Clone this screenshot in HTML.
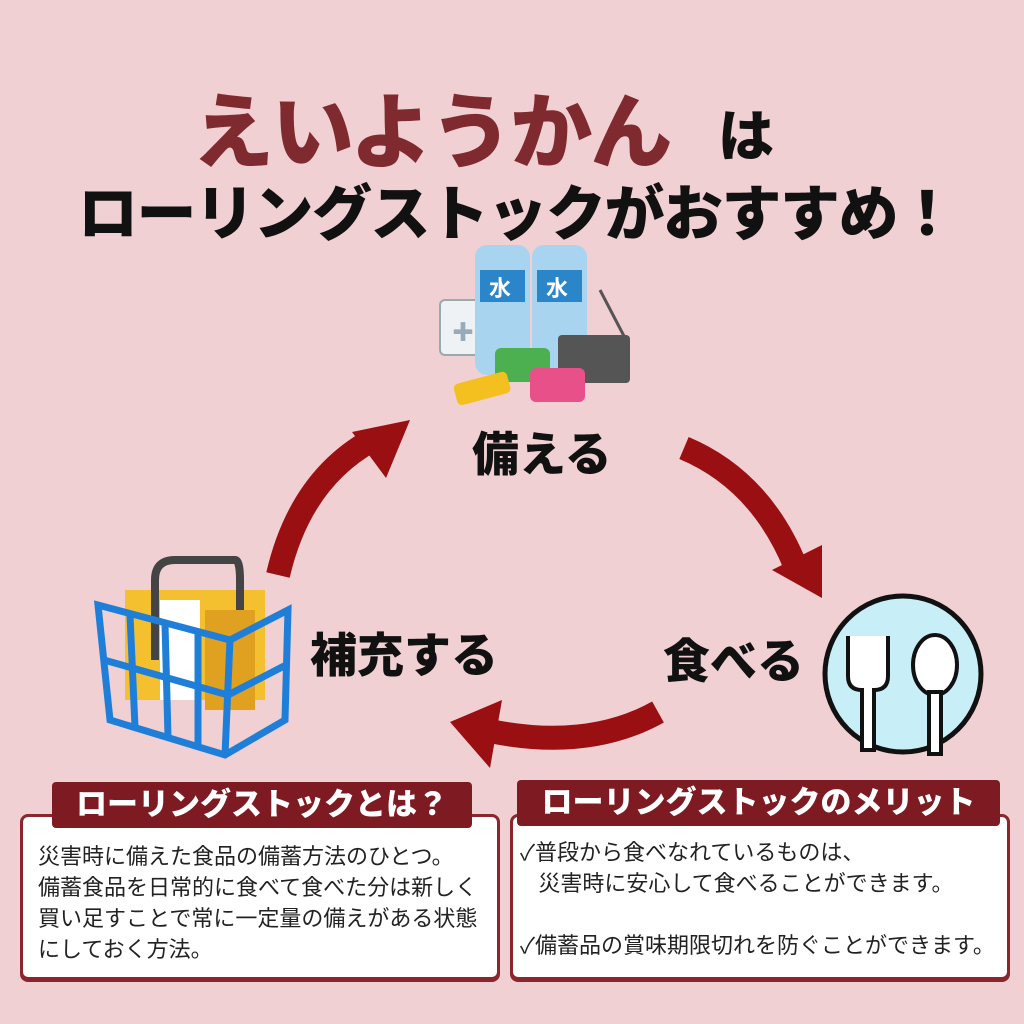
<!DOCTYPE html>
<html><head><meta charset="utf-8"><style>
body{margin:0;width:1024px;height:1024px;background:#f0d0d3;position:relative;overflow:hidden;font-family:"Liberation Sans","Noto Sans CJK JP",sans-serif}
.a{position:absolute;white-space:nowrap}
.t1{left:192px;top:66px;font-size:82px;font-weight:900;color:#7f2a2e;letter-spacing:-2px}
.t1b{left:718px;top:92px;font-size:56px;font-weight:900;color:#111}
.t2{left:78px;top:166px;font-size:60px;font-weight:900;color:#111;letter-spacing:-1.5px}
.lbl{font-size:47px;font-weight:900;color:#111}
.box{position:absolute;background:#fff;border:3px solid #8a262c;border-radius:8px;box-shadow:0 2px 0 #8a262c}
.hd{position:absolute;background:#7e1b22;color:#fff;font-weight:900;font-size:31px;text-align:center;border-radius:4px;line-height:46px}
.tx{position:absolute;font-size:22px;line-height:31px;color:#222}
</style></head><body>
<div class="a t1">えいようかん</div>
<div class="a t1b">は</div>
<div class="a t2">ローリングストックがおすすめ！</div>

<svg class="a" style="left:0;top:0" width="1024" height="1024">
<g fill="none" stroke="#9a0f12" stroke-width="24">
<path d="M278 575 Q300 480 372 440"/>
<path d="M684 448 Q760 480 795 565"/>
<path d="M658 712 Q590 750 495 732"/>
</g>
<g fill="#9a0f12">
<polygon points="410,420 352,432 386,478"/>
<polygon points="822,598 822,545 772,570"/>
<polygon points="450,722 502,700 490,768"/>
</g>
<rect x="440" y="300" width="42" height="55" rx="5" fill="#eef2f5" stroke="#9aa" stroke-width="2"/>
<text x="452" y="340" font-size="22" fill="#9ab">✚</text>
<rect x="475" y="245" width="55" height="130" rx="12" fill="#a8d4f0"/>
<rect x="532" y="245" width="55" height="130" rx="12" fill="#a8d4f0"/>
<rect x="480" y="270" width="45" height="32" fill="#2a86c8"/><text x="489" y="296" font-size="22" fill="#fff" font-weight="bold">水</text>
<rect x="537" y="270" width="45" height="32" fill="#2a86c8"/><text x="546" y="296" font-size="22" fill="#fff" font-weight="bold">水</text>
<rect x="558" y="335" width="72" height="48" rx="4" fill="#555"/>
<line x1="600" y1="290" x2="625" y2="338" stroke="#555" stroke-width="3"/>
<rect x="495" y="348" width="55" height="34" rx="6" fill="#4caf50"/>
<rect x="530" y="368" width="55" height="34" rx="6" fill="#e8508a"/>
<rect x="455" y="378" width="55" height="22" rx="5" fill="#f4c020" transform="rotate(-15 480 390)"/>
<rect x="125" y="590" width="140" height="110" fill="#f4c030"/>
<rect x="160" y="600" width="40" height="100" fill="#fff"/>
<rect x="205" y="610" width="50" height="100" fill="#e0a020"/>
<path d="M155 660 L155 580 Q155 560 175 560 L235 560 Q240 560 240 580 L240 610" fill="none" stroke="#444" stroke-width="8"/>
<g fill="none" stroke="#1f7fd8" stroke-width="7">
<polygon points="98,605 230,640 288,610 285,720 225,755 110,720"/>
<line x1="230" y1="640" x2="225" y2="755"/>
<line x1="130" y1="615" x2="135" y2="727"/><line x1="165" y1="624" x2="168" y2="737"/><line x1="198" y1="632" x2="198" y2="746"/>
<line x1="104" y1="660" x2="228" y2="695"/><line x1="228" y1="695" x2="286" y2="665"/>
</g>
<circle cx="903" cy="674" r="78" fill="#c8eef7" stroke="#111" stroke-width="5"/>
<path d="M848 636 v40 q0 14 14 14 v60 h12 v-60 q14 0 14-14 v-40" fill="#fff" stroke="#111" stroke-width="4"/>
<ellipse cx="935" cy="665" rx="22" ry="30" fill="#fff" stroke="#111" stroke-width="4"/>
<rect x="929" y="692" width="12" height="62" fill="#fff" stroke="#111" stroke-width="4"/>
</svg>

<div class="a lbl" style="left:472px;top:416px">備える</div>
<div class="a lbl" style="left:310px;top:617px">補充する</div>
<div class="a lbl" style="left:663px;top:623px">食べる</div>

<div class="box" style="left:20px;top:814px;width:474px;height:160px"></div>
<div class="hd" style="left:52px;top:782px;width:420px">ローリングストックとは？</div>
<div class="tx" style="left:38px;top:841px">災害時に備えた食品の備蓄方法のひとつ。<br>備蓄食品を日常的に食べて食べた分は新しく<br>買い足すことで常に一定量の備えがある状態<br>にしておく方法。</div>

<div class="box" style="left:510px;top:814px;width:494px;height:160px"></div>
<div class="hd" style="left:517px;top:780px;width:483px">ローリングストックのメリット</div>
<div class="tx" style="left:520px;top:837px">✓普段から食べなれているものは、<br>&nbsp;&nbsp;&nbsp;災害時に安心して食べることができます。<br><br>✓備蓄品の賞味期限切れを防ぐことができます。</div>
</body></html>
